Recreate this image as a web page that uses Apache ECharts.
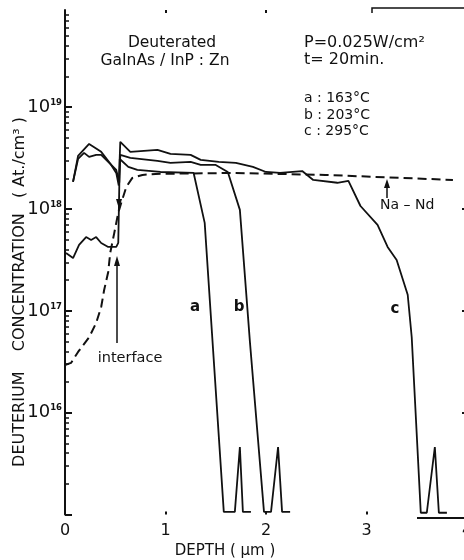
<!DOCTYPE html>
<html><head><meta charset="utf-8">
<script src="https://cdn.jsdelivr.net/npm/echarts@6/dist/echarts.min.js"></script>
<style>html,body{margin:0;padding:0;background:#fff}#c{width:464px;height:560px}</style>
</head><body><div id="c"></div>
<script>
// ---- data ----
const depthTicks = [0, 1, 2, 3, 4];
const decadeLabels = [1e16, 1e17, 1e18, 1e19];
const majorTicks = [1e15, 1e16, 1e17, 1e18, 1e19];
const minorTicks = [
  2e15,3e15,4e15,5e15,6e15,7e15,8e15,9e15,
  2e16,3e16,4e16,5e16,6e16,7e16,8e16,9e16,
  2e17,3e17,4e17,5e17,6e17,7e17,8e17,9e17,
  2e18,3e18,4e18,5e18,6e18,7e18,8e18,9e18,
  2e19,3e19,4e19,5e19,6e19,7e19,8e19,9e19
];
const rightTicks = [1e16, 1e17, 1e18];

// curve a : 163 °C
const curveA = [
  [0.01,3.7e17],[0.08,3.3e17],[0.14,4.44e17],[0.21,5.3e17],[0.26,4.97e17],[0.31,5.3e17],
  [0.36,4.64e17],[0.43,4.24e17],[0.51,4.24e17],[0.53,4.64e17],[0.545,3.1e18],[0.63,2.59e18],
  [0.72,2.42e18],[0.95,2.31e18],[1.28,2.26e18],[1.39,7.3e17],[1.58,1.06e15],[1.69,1.06e15],
  [1.74,4.6e15],[1.77,1.06e15],[1.85,1.06e15]
];
// curve b : 203 °C
const curveB = [
  [0.08,1.85e18],[0.13,3.1e18],[0.19,3.56e18],[0.24,3.25e18],[0.31,3.4e18],[0.36,3.4e18],
  [0.46,2.71e18],[0.51,2.42e18],[0.54,1.81e18],[0.55,3.4e18],[0.65,3.18e18],[0.92,2.97e18],
  [1.05,2.84e18],[1.25,2.9e18],[1.35,2.71e18],[1.5,2.71e18],[1.62,2.31e18],[1.74,9.8e17],
  [1.84,4.95e16],[1.98,1.06e15],[2.05,1.06e15],[2.12,4.6e15],[2.16,1.06e15],[2.24,1.06e15]
];
// curve c : 295 °C
const curveC = [
  [0.08,1.85e18],[0.13,3.32e18],[0.24,4.36e18],[0.36,3.64e18],[0.45,2.8e18],[0.51,2.26e18],
  [0.535,1.7e18],[0.55,4.56e18],[0.65,3.64e18],[0.92,3.81e18],[1.05,3.48e18],[1.25,3.4e18],
  [1.35,3.04e18],[1.53,2.9e18],[1.7,2.84e18],[1.87,2.59e18],[2.0,2.31e18],[2.14,2.26e18],
  [2.36,2.36e18],[2.47,1.93e18],[2.71,1.81e18],[2.82,1.89e18],[2.94,1.07e18],[3.11,6.98e17],
  [3.21,4.24e17],[3.30,3.16e17],[3.41,1.44e17],[3.45,5.5e16],[3.54,1.04e15],[3.60,1.04e15],
  [3.68,4.6e15],[3.72,1.04e15],[3.80,1.04e15]
];
// Na - Nd (dashed)
const naNd = [
  [0,2.94e16],[0.06,3.08e16],[0.13,3.95e16],[0.24,5.5e16],[0.31,7.6e16],[0.36,1.09e17],
  [0.39,1.61e17],[0.43,2.41e17],[0.45,3.71e17],[0.49,5.8e17],[0.53,9.2e17],[0.56,1.15e18],
  [0.61,1.65e18],[0.67,2.02e18],[0.77,2.16e18],[0.9,2.21e18],[1.67,2.26e18],[2.59,2.16e18],
  [3.86,1.93e18]
];

// ---- chart ----
const FONT = 'DejaVu Sans';
const INK = '#111';
const chart = echarts.init(document.getElementById('c'), null, {renderer: 'canvas'});

function lineSeries(name, data, dashed) {
  return {
    name, type: 'line', data, symbol: 'none', showSymbol: false, smooth: false,
    animation: false, xAxisIndex: 0, yAxisIndex: 0,
    lineStyle: dashed ? {color: INK, width: 2, type: [9, 5]} : {color: INK, width: 1.8}
  };
}
function txt(text, x, y, size, opts) {
  return Object.assign({
    type: 'text', x, y, silent: true,
    style: Object.assign({text, fill: INK, font: (opts && opts.weight ? opts.weight + ' ' : '') + size + 'px "' + FONT + '"',
      textAlign: 'left', textVerticalAlign: 'middle'}, opts && opts.style)
  }, opts && opts.el);
}

chart.setOption({
  backgroundColor: '#fff',
  animation: false,
  grid: {left: 65, right: -3, top: 10, bottom: 45.5, containLabel: false, outerBoundsMode: 'none'},
  xAxis: [
    {type: 'value', min: 0, max: 4, interval: 1,
     axisLine: {show: false}, splitLine: {show: false},
     axisTick: {show: true, inside: true, length: 3, customValues: [1, 2, 3], lineStyle: {color: INK, width: 2}},
     axisLabel: {show: true, margin: 8, fontSize: 16, fontFamily: FONT, color: INK, customValues: depthTicks,
       showMinLabel: true, showMaxLabel: true, hideOverlap: false, formatter: v => String(v)}},
    {type: 'value', position: 'top', min: 0, max: 4, interval: 1,
     axisLine: {show: false}, splitLine: {show: false}, axisLabel: {show: false},
     axisTick: {show: true, inside: true, length: 3, customValues: [1, 2], lineStyle: {color: INK, width: 2}}}
  ],
  yAxis: [
    {type: 'log', logBase: 10, min: 1e15, max: 9e19, position: 'left',
     axisLine: {show: true, lineStyle: {color: INK, width: 2}},
     splitLine: {show: false},
     axisTick: {show: true, inside: true, length: 7, customValues: majorTicks, lineStyle: {color: INK, width: 2}},
     axisLabel: {show: true, margin: 3, customValues: decadeLabels,
       formatter: v => '{m|10}{s|' + Math.round(Math.log10(v)) + '}',
       rich: {
         m: {fontSize: 18, fontFamily: FONT, color: INK, lineHeight: 18},
         s: {fontSize: 8.5, fontFamily: FONT, fontWeight: 'bold', color: INK, lineHeight: 9, verticalAlign: 'top'}
       }}},
    {type: 'log', logBase: 10, min: 1e15, max: 9e19, position: 'left',
     axisLine: {show: false}, splitLine: {show: false}, axisLabel: {show: false},
     axisTick: {show: true, inside: true, length: 4, customValues: minorTicks, lineStyle: {color: INK, width: 1.5}}},
    {type: 'log', logBase: 10, min: 1e15, max: 9e19, position: 'right',
     axisLine: {show: false}, splitLine: {show: false}, axisLabel: {show: false},
     axisTick: {show: true, inside: true, length: 5, customValues: rightTicks, lineStyle: {color: INK, width: 2}}}
  ],
  series: [
    lineSeries('a', curveA),
    lineSeries('b', curveB),
    lineSeries('c', curveC),
    lineSeries('Na-Nd', naNd, true)
  ],
  graphic: [
    txt('Deuterated', 172, 43, 15.5, {style: {textAlign: 'center'}}),
    txt('GaInAs / InP : Zn', 165, 61, 15.5, {style: {textAlign: 'center'}}),
    txt('P=0.025W/cm²', 304, 43, 16),
    txt('t= 20min.', 304, 60, 16),
    txt('a : 163°C', 304, 98, 14),
    txt('b : 203°C', 304, 115, 14),
    txt('c : 295°C', 304, 131, 14),
    txt('Na – Nd', 380, 205, 14),
    txt('interface', 130, 358, 14.5, {style: {textAlign: 'center'}}),
    txt('a', 195, 307, 15, {weight: 'bold', style: {textAlign: 'center'}}),
    txt('b', 239, 307, 15, {weight: 'bold', style: {textAlign: 'center'}}),
    txt('c', 395, 309, 15, {weight: 'bold', style: {textAlign: 'center'}}),
    txt('DEPTH ( µm )', 225, 551, 15, {style: {textAlign: 'center'}}),
    txt('DEUTERIUM    CONCENTRATION   ( At./cm³ )', 20, 292, 16, {style: {textAlign: 'center'}, el: {rotation: Math.PI / 2}}),
    // arrows
    {type: 'line', silent: true, shape: {x1: 117, y1: 343, x2: 117, y2: 264}, style: {stroke: INK, lineWidth: 1.5}},
    {type: 'polygon', silent: true, shape: {points: [[117, 256], [114, 266], [120, 266]]}, style: {fill: INK}},
    {type: 'polygon', silent: true, shape: {points: [[119, 209], [116, 199], [122, 199]]}, style: {fill: INK}},
    {type: 'line', silent: true, shape: {x1: 387, y1: 198, x2: 387, y2: 186}, style: {stroke: INK, lineWidth: 1.5}},
    {type: 'polygon', silent: true, shape: {points: [[387, 179], [384, 188], [390, 188]]}, style: {fill: INK}},
    // frame fragments
    {type: 'polyline', silent: true, shape: {points: [[372, 13], [372, 8], [464, 8]]}, style: {stroke: INK, lineWidth: 1.5, fill: null}},
    {type: 'line', silent: true, shape: {x1: 417, y1: 518, x2: 464, y2: 518}, style: {stroke: INK, lineWidth: 2}}
  ]
});
</script>
</body></html>
